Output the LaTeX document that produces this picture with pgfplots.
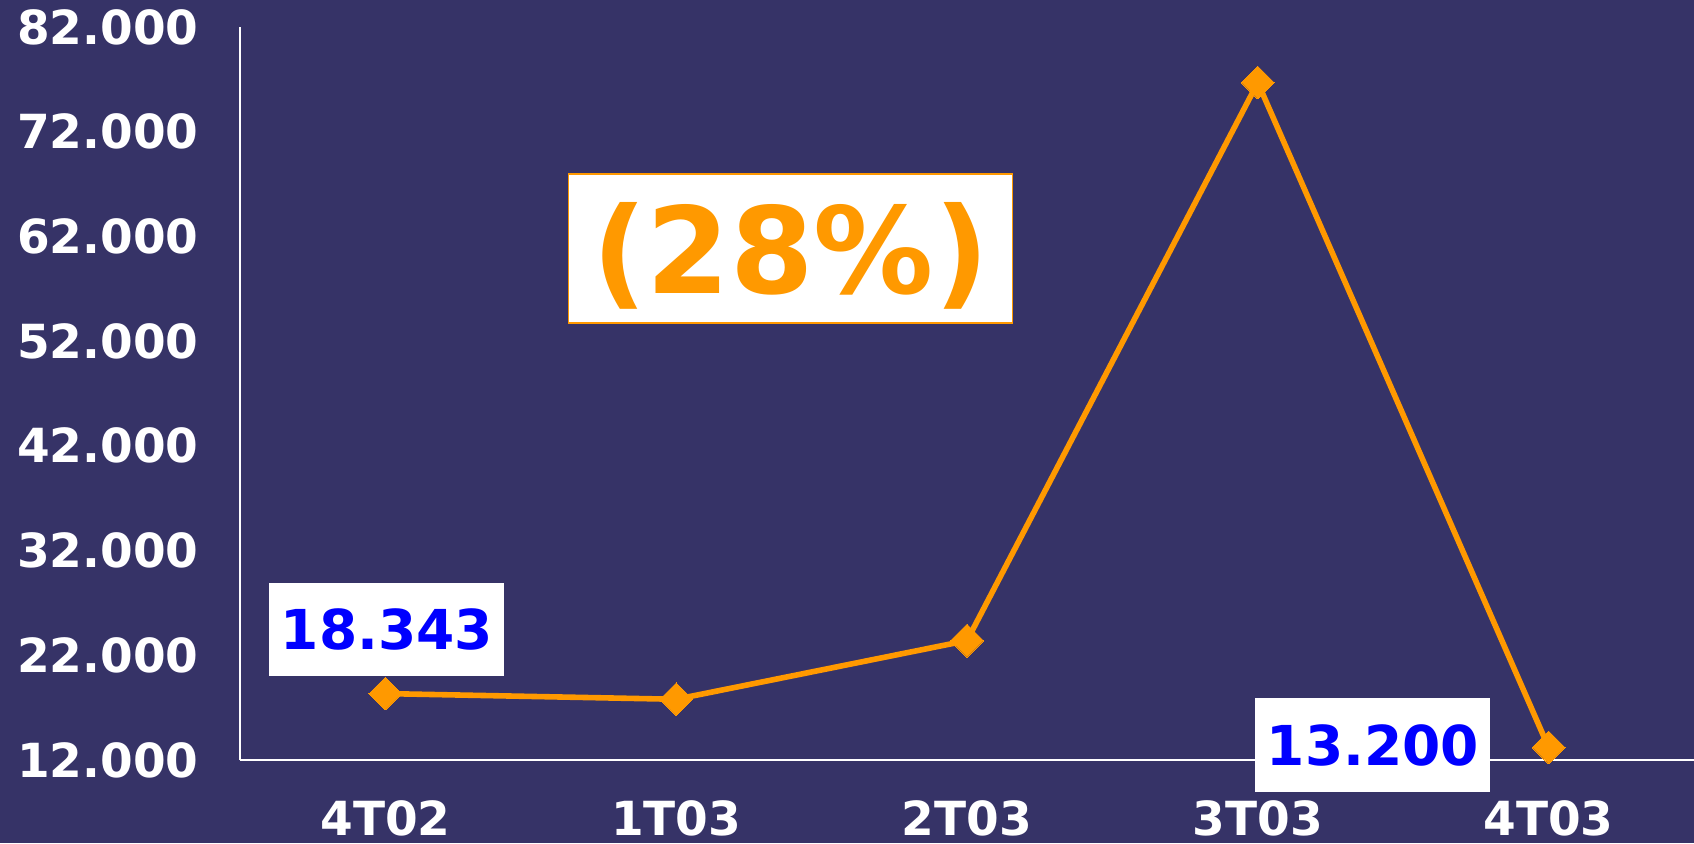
\documentclass[border=0pt]{standalone}
\usepackage{pgfplots}
\pgfplotsset{compat=1.18}
\usepackage{fontspec}
\setmainfont{DejaVu Sans}
\definecolor{bgC}{RGB}{54,51,103}
\definecolor{orC}{RGB}{255,153,0}
\definecolor{blC}{RGB}{0,0,255}
\begin{document}
\begin{tikzpicture}
\fill[bgC] (0,0) rectangle (847pt,421.5pt);
\useasboundingbox (0,0) rectangle (847pt,421.5pt);
\begin{axis}[
 at={(120pt,41.5pt)}, anchor=south west,
 scale only axis, width=727pt, height=366.5pt,
 xmin=-0.5, xmax=4.5, ymin=12000, ymax=82000,
 axis x line=bottom, axis y line=left,
 axis line style={-, white, line width=1pt},
 scaled y ticks=false,
 xtick={0,1,2,3,4}, xticklabels={4T02,1T03,2T03,3T03,4T03},
 ytick={12000,22000,32000,42000,52000,62000,72000,82000},
 yticklabels={12.000,22.000,32.000,42.000,52.000,62.000,72.000,82.000},
 major tick length=0pt,
 tick label style={font=\bfseries\fontsize{23.5}{23.5}\selectfont, text=white, inner sep=0pt},
 xticklabel style={anchor=center, yshift=-29pt},
 yticklabel style={anchor=east, xshift=-20.5pt},
 clip=false,
]
\addplot[orC, line width=2.8pt, mark=square*, mark size=5.8pt,
  mark options={rotate=45, line width=0pt, fill=orC, draw=orC}]
  coordinates {(0,18343) (1,17800) (2,23400) (3,76700) (4,13200)};
\node[fill=white, minimum width=117.5pt, minimum height=46.5pt, inner sep=0pt,
  text=blC, font=\bfseries\fontsize{27.5}{27.5}\selectfont] at (axis cs:0.005,24464) {18.343};
\node[fill=white, minimum width=117.5pt, minimum height=47pt, inner sep=0pt,
  text=blC, font=\bfseries\fontsize{27.5}{27.5}\selectfont] at (axis cs:3.396,13433) {13.200};
\node[fill=white, draw=orC, line width=0.8pt, minimum width=222pt, minimum height=74.5pt,
  inner sep=0pt, text depth=0pt, text=orC, font=\bfseries\fontsize{60}{60}\selectfont]
  at (axis cs:1.393,60854) {(28\%)};
\end{axis}
\end{tikzpicture}
\end{document}
